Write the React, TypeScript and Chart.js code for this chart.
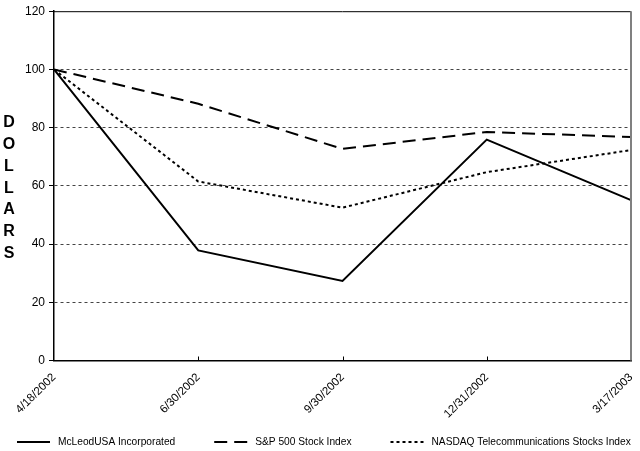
import React, { useEffect, useRef } from 'react';
import { Chart, registerables } from 'chart.js';

Chart.register(...registerables);

const categories = ['4/18/2002', '6/30/2002', '9/30/2002', '12/31/2002', '3/17/2003'];
const mcleod = [100, 37.8, 27.3, 75.9, 55.1];
const sp500 = [100, 88.2, 72.7, 78.5, 76.8];
const nasdaq = [100, 61.5, 52.5, 64.7, 72.3];
const seriesNames = ['McLeodUSA Incorporated', 'S&P 500 Stock Index', 'NASDAQ Telecommunications Stocks Index'];
const yAxisTitle = 'DOLLARS';
const yMin = 0;
const yMax = 120;
const yStep = 20;

const FONT = "'Liberation Sans', Arial, sans-serif";

const framePlugin = {
  id: 'frame',
  afterDraw(chart: any) {
    const { ctx, chartArea } = chart;
    ctx.save();
    ctx.setLineDash([]);
    // top frame line
    ctx.strokeStyle = '#000';
    ctx.lineWidth = 1;
    ctx.beginPath();
    ctx.moveTo(chartArea.left, chartArea.top + 0.5);
    ctx.lineTo(chartArea.right, chartArea.top + 0.5);
    ctx.stroke();
    // right frame line
    ctx.strokeStyle = '#808080';
    ctx.lineWidth = 2;
    ctx.beginPath();
    ctx.moveTo(chartArea.right, chartArea.top);
    ctx.lineTo(chartArea.right, chartArea.bottom);
    ctx.stroke();
    // small inward tick marks on the category axis
    const xs = chart.scales.x;
    ctx.strokeStyle = '#000';
    ctx.lineWidth = 1;
    for (let i = 1; i < xs.ticks.length - 1; i++) {
      const px = Math.round(xs.getPixelForTick(i)) + 0.5;
      ctx.beginPath();
      ctx.moveTo(px, chartArea.bottom);
      ctx.lineTo(px, chartArea.bottom - 4);
      ctx.stroke();
    }
    // vertical axis title, stacked letters
    ctx.fillStyle = '#000';
    ctx.font = `bold 16px ${FONT}`;
    ctx.textAlign = 'center';
    ctx.textBaseline = 'middle';
    yAxisTitle.split('').forEach((ch, i) => {
      ctx.fillText(ch, 9, 123 + i * 21.7);
    });
    // legend
    ctx.font = `10.2px ${FONT}`;
    ctx.textAlign = 'left';
    const ly = 442;
    let x = 17;
    chart.data.datasets.forEach((ds: any) => {
      ctx.save();
      ctx.strokeStyle = ds.borderColor;
      ctx.lineWidth = ds.borderWidth;
      ctx.setLineDash(ds.borderDash || []);
      ctx.beginPath();
      ctx.moveTo(x, ly);
      ctx.lineTo(x + 33, ly);
      ctx.stroke();
      ctx.restore();
      ctx.fillStyle = '#000';
      ctx.fillText(ds.label, x + 41, ly);
      x += 41 + ctx.measureText(ds.label).width + 39;
    });
    ctx.restore();
  },
};

export default function App() {
  const ref = useRef<HTMLCanvasElement | null>(null);
  useEffect(() => {
    document.body.style.margin = '0';
    const canvas = ref.current;
    if (!canvas) return;
    const common = { pointRadius: 0, pointHoverRadius: 0, fill: false, tension: 0, borderColor: '#000', backgroundColor: '#000' };
    const chart = new Chart(canvas, {
      type: 'line',
      data: {
        labels: categories,
        datasets: [
          { ...common, label: seriesNames[0], data: mcleod, borderWidth: 2, borderDash: [] },
          { ...common, label: seriesNames[1], data: sp500, borderWidth: 2, borderDash: [13, 7] },
          { ...common, label: seriesNames[2], data: nasdaq, borderWidth: 2, borderDash: [3, 3] },
        ],
      },
      options: {
        animation: false,
        responsive: false,
        layout: { padding: { left: 0, right: 9, top: 5, bottom: 28.5 } },
        plugins: {
          legend: { display: false },
          tooltip: { enabled: false },
        },
        scales: {
          x: {
            offset: false,
            grid: { drawOnChartArea: false, drawTicks: false },
            border: { color: '#000', width: 1.5 },
            ticks: {
              color: '#000',
              font: { family: FONT, size: 11.5 },
              minRotation: 45,
              maxRotation: 45,
              padding: 10,
              autoSkip: false,
            },
            afterFit: (s: any) => {
              s.height = 62;
              s.paddingLeft = 0;
              s.paddingRight = 0;
            },
          },
          y: {
            min: yMin,
            max: yMax,
            ticks: { stepSize: yStep, color: '#000', font: { family: FONT, size: 12 }, padding: 4 },
            grid: {
              color: (c: any) => (c.tick && (c.tick.value === yMin || c.tick.value === yMax) ? 'rgba(0,0,0,0)' : '#444'),
              tickColor: '#000',
              tickLength: 5,
              lineWidth: 1,
            },
            border: { color: '#000', width: 1.5, dash: [3, 3] },
            afterFit: (s: any) => { s.width = 54; },
          },
        },
      },
      plugins: [framePlugin],
    } as any);
    return () => chart.destroy();
  }, []);
  return (
    <div style={{ width: 640, height: 451 }}>
      <canvas ref={ref} width={640} height={451} />
    </div>
  );
}
